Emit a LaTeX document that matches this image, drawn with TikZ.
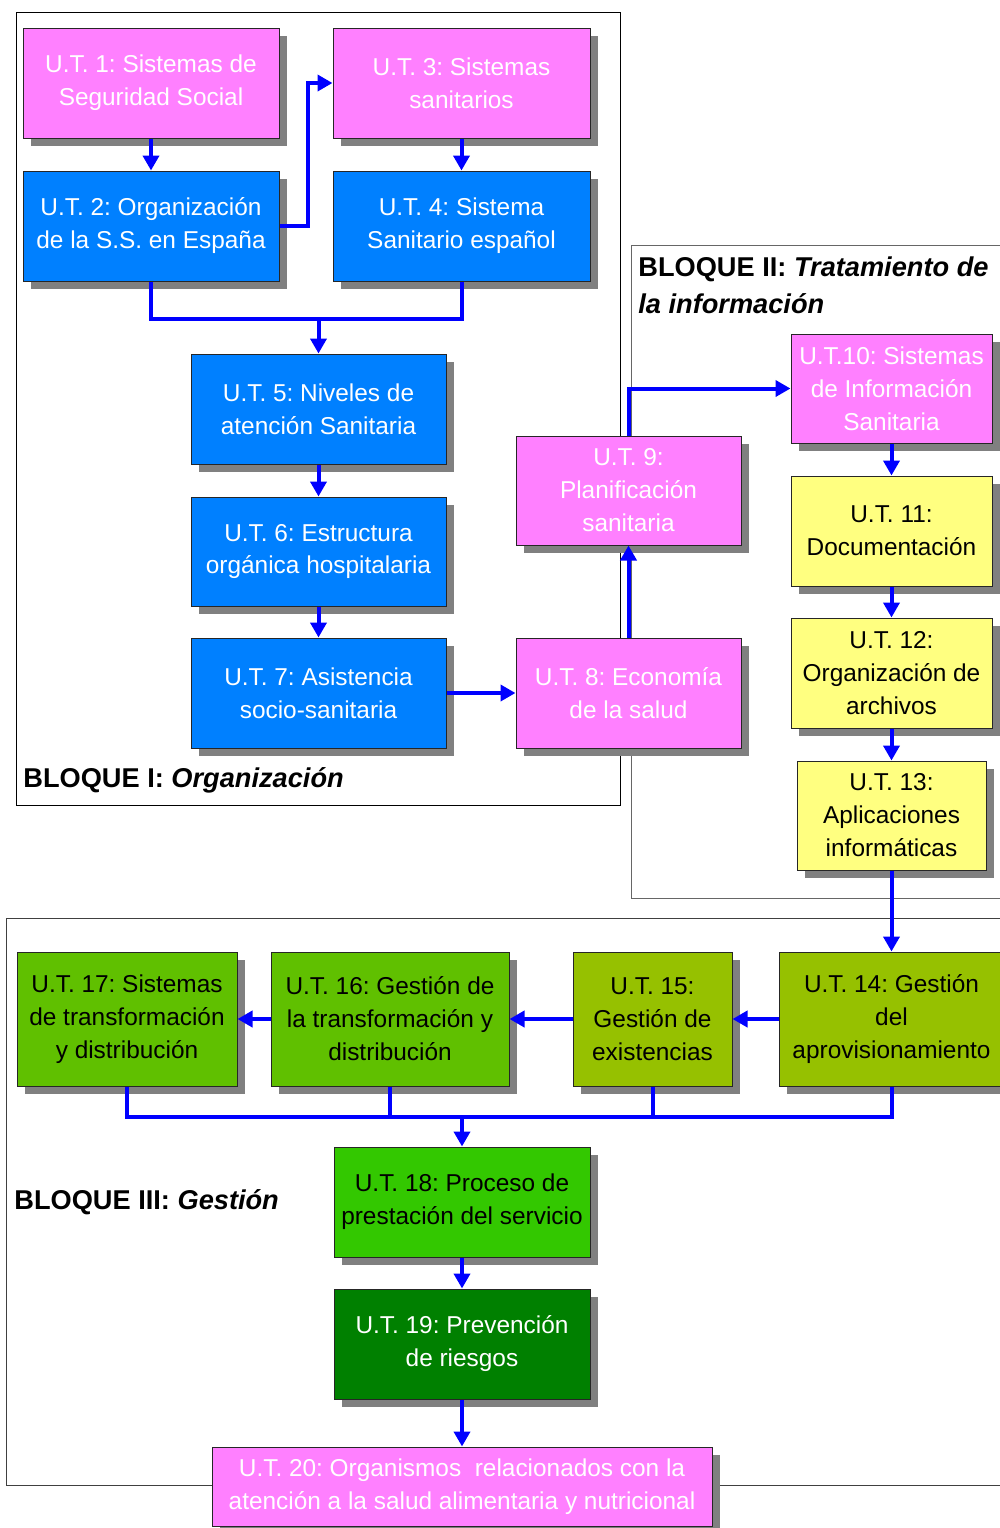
\documentclass[tikz,border=0pt]{standalone}
\usepackage{fontspec}
\setmainfont{Liberation Sans}
\frenchspacing
\usetikzlibrary{arrows.meta,shadows}
\definecolor{pinkbox}{RGB}{255,128,255}
\definecolor{bluebox}{RGB}{0,128,255}
\definecolor{yellowbox}{RGB}{255,255,128}
\definecolor{olivebox}{RGB}{150,193,0}
\definecolor{greenbox}{RGB}{96,192,0}
\definecolor{brightgreen}{RGB}{51,200,0}
\definecolor{darkgreenbox}{RGB}{0,128,0}
\definecolor{shadowgray}{RGB}{128,128,128}
\definecolor{arrowblue}{RGB}{0,0,255}
\tikzset{
  ut/.style={draw=black!85, line width=0.5pt, inner sep=0pt, align=center,
    font=\fontsize{12.2}{16.5}\selectfont,
    general shadow={fill=shadowgray, shadow xshift=4pt, shadow yshift=-4pt}},
  pinkut/.style={ut, fill=pinkbox, text=white},
  blueut/.style={ut, fill=bluebox, text=white},
  yellowut/.style={ut, fill=yellowbox, text=black},
  oliveut/.style={ut, fill=olivebox, text=black},
  greenut/.style={ut, fill=greenbox, text=black},
  brightut/.style={ut, fill=brightgreen, text=black},
  darkut/.style={ut, fill=darkgreenbox, text=white},
  conn/.style={draw=arrowblue, line width=2pt},
  arr/.style={conn, -{Triangle[width=8pt,length=7.5pt]}},
  bloque/.style={inner sep=0pt, font=\fontsize{13.6}{18.5}\selectfont\bfseries, align=left},
  frame/.style={line width=0.5pt}
}
\begin{document}
\begin{tikzpicture}[x=0.5pt,y=-0.5pt]
\useasboundingbox (0,0) rectangle (1000,1528);
\clip (0,0) rectangle (1000,1528);
\fill[white] (0,0) rectangle (1000,1528);
% block frames
\draw[frame, draw=black] (16,12) rectangle (620,805);
\draw[frame, draw=black!60] (631,245) rectangle (1010,898);
\draw[frame, draw=black!75] (6,918) rectangle (1010,1485);
% titles
\node[bloque, anchor=west] (t1) at (23,780) {BLOQUE I: \textit{Organización}};
\node[bloque, anchor=north west] (t2) at (638,256) {BLOQUE II: \textit{Tratamiento de}\\\textit{la información}};
\node[bloque, anchor=west] (t3) at (14,1202) {BLOQUE III: \textit{Gestión}};
% nodes
\node[pinkut, minimum width=128pt, minimum height=55pt] (u1) at (151,83) {U.T. 1: Sistemas de\\Seguridad Social};
\node[blueut, minimum width=128pt, minimum height=55pt] (u2) at (151,226) {U.T. 2: Organización\\de la S.S. en España};
\node[pinkut, minimum width=128.5pt, minimum height=55pt] (u3) at (461.5,83) {U.T. 3: Sistemas\\sanitarios};
\node[blueut, minimum width=128.5pt, minimum height=55pt] (u4) at (461.5,226) {U.T. 4: Sistema\\Sanitario español};
\node[blueut, minimum width=127.5pt, minimum height=55pt] (u5) at (318.5,409) {U.T. 5: Niveles de\\atención Sanitaria};
\node[blueut, minimum width=127.5pt, minimum height=54.5pt] (u6) at (318.5,551.5) {U.T. 6: Estructura\\orgánica hospitalaria};
\node[blueut, minimum width=127.5pt, minimum height=55pt] (u7) at (318.5,693) {U.T. 7: Asistencia\\socio-sanitaria};
\node[pinkut, minimum width=112.5pt, minimum height=55pt] (u8) at (628.5,693) {U.T. 8: Economía\\de la salud};
\node[pinkut, minimum width=112.5pt, minimum height=54.5pt] (u9) at (628.5,490.5) {U.T. 9:\\Planificación\\sanitaria};
\node[pinkut, minimum width=100.5pt, minimum height=54.5pt] (u10) at (891.5,388.5) {U.T.10: Sistemas\\de Información\\Sanitaria};
\node[yellowut, minimum width=100.5pt, minimum height=55pt] (u11) at (891.5,531) {U.T. 11:\\Documentación};
\node[yellowut, minimum width=100.5pt, minimum height=55pt] (u12) at (891.5,673) {U.T. 12:\\Organización de\\archivos};
\node[yellowut, minimum width=94.5pt, minimum height=54.5pt] (u13) at (891.5,815.5) {U.T. 13:\\Aplicaciones\\informáticas};
\node[oliveut, minimum width=112.5pt, minimum height=67pt] (u14) at (891.5,1019) {U.T. 14: Gestión\\del\\aprovisionamiento};
\node[oliveut, minimum width=79.5pt, minimum height=67pt] (u15) at (652.5,1019) {U.T. 15:\\Gestión de\\existencias};
\node[greenut, minimum width=119pt, minimum height=67pt] (u16) at (390,1019) {U.T. 16: Gestión de\\la transformación y\\distribución};
\node[greenut, minimum width=110pt, minimum height=67pt] (u17) at (127,1019) {U.T. 17: Sistemas\\de transformación\\y distribución};
\node[brightut, minimum width=128pt, minimum height=55pt] (u18) at (462,1202) {U.T. 18: Proceso de\\prestación del servicio};
\node[darkut, minimum width=128pt, minimum height=55pt] (u19) at (462,1344) {U.T. 19: Prevención\\de riesgos};
\node[pinkut, minimum width=250pt, minimum height=39.5pt] (u20) at (462,1486.5) {U.T. 20: Organismos\ \ relacionados con la\\atención a la salud alimentaria y nutricional};
% connectors
\draw[arr] (u1.south) -- (u2.north);
\draw[arr] (u3.south) -- (u4.north);
\draw[arr] (u2.east) -- ++(28,0) |- (u3.west);
\coordinate (j1) at (318.5,319);
\draw[conn] (u2.south) |- (j1);
\draw[conn] (u4.south) |- (j1);
\draw[arr] (j1) -- (u5.north);
\draw[arr] (u5.south) -- (u6.north);
\draw[arr] (u6.south) -- (u7.north);
\draw[arr] (u7.east) -- (u8.west);
\draw[arr] (u8.north) -- (u9.south);
\draw[arr] (u9.north) |- (u10.west);
\draw[arr] (u10.south) -- (u11.north);
\draw[arr] (u11.south) -- (u12.north);
\draw[arr] (u12.south) -- (u13.north);
\draw[arr] (u13.south) -- (u14.north);
\draw[arr] (u14.west) -- (u15.east);
\draw[arr] (u15.west) -- (u16.east);
\draw[arr] (u16.west) -- (u17.east);
\coordinate (bus) at (462,1117);
\draw[conn] (u17.south) |- (bus);
\draw[conn] (u14.south) |- (bus);
\draw[conn] (u16.south) -- (u16.south |- bus);
\draw[conn] (u15.south) -- (u15.south |- bus);
\draw[arr] (bus) -- (u18.north);
\draw[arr] (u18.south) -- (u19.north);
\draw[arr] (u19.south) -- (u20.north);
\end{tikzpicture}
\end{document}
